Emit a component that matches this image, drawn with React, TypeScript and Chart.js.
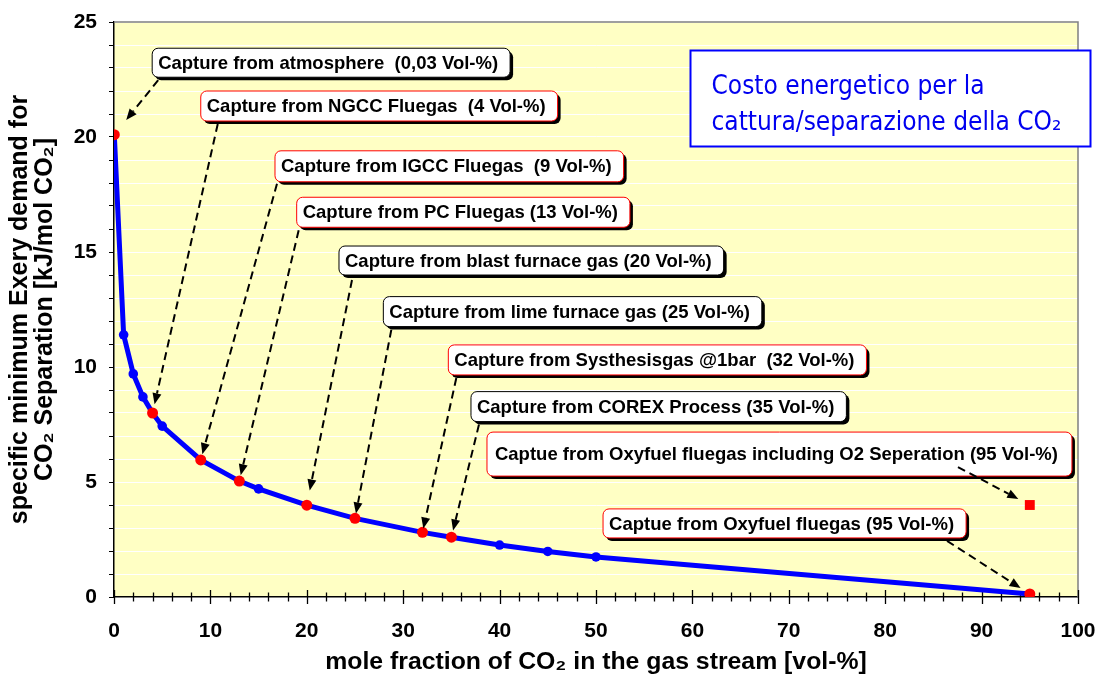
import React, { useEffect, useRef } from 'react';
import { Chart, registerables } from 'chart.js';

Chart.register(...registerables);

// ---- data ----
const co2Fraction = [0.03, 1, 2, 3, 4, 5, 9, 13, 15, 20, 25, 32, 35, 40, 45, 50, 95];
const exergyDemand = [20.1, 11.4, 9.7, 8.7, 8.0, 7.43, 5.96, 5.04, 4.7, 3.99, 3.42, 2.81, 2.6, 2.26, 1.98, 1.74, 0.13];
const highlightedFractions = [0.03, 4, 9, 13, 20, 25, 32, 35, 95];
const oxyO2Fraction = [95];
const oxyO2Demand = [4.0];
const xTickValues = [0, 10, 20, 30, 40, 50, 60, 70, 80, 90, 100];
const yTickValues = [0, 5, 10, 15, 20, 25];

const calloutTexts = [
  'Capture from atmosphere  (0,03 Vol-%)',
  'Capture from NGCC Fluegas  (4 Vol-%)',
  'Capture from IGCC Fluegas  (9 Vol-%)',
  'Capture from PC Fluegas (13 Vol-%)',
  'Capture from blast furnace gas (20 Vol-%)',
  'Capture from lime furnace gas (25 Vol-%)',
  'Capture from Systhesisgas @1bar  (32 Vol-%)',
  'Capture from COREX Process (35 Vol-%)',
  'Captue from Oxyfuel fluegas including O2 Seperation (95 Vol-%)',
  'Captue from Oxyfuel fluegas (95 Vol-%)',
];
// target: [datasetIndex, pointIndex]
const calloutTargets = [
  [0, 0], [0, 4], [0, 6], [0, 7], [0, 9], [0, 10], [0, 11], [0, 12], [1, 0], [0, 16],
];

const infoLines = ['Costo energetico per la', 'cattura/separazione della CO\u2082'];
const xTitle = 'mole fraction of CO\u2082 in the gas stream [vol-%]';
const yTitle = ['specific minimum Exery demand for', 'CO\u2082 Separation [kJ/mol CO\u2082]'];

// ---- layout of callouts (box anchor in axis units, offsets in px) ----
const calloutLayout = [
  { bx: 3.96, by: 23.86, h: 29, px: 6, tx: 6, ty: 32, gap: 19, red: false },
  { bx: 9.0, by: 22.0, h: 30, px: 6, tx: 17, ty: 33, gap: 9, red: true },
  { bx: 16.7, by: 19.4, h: 31, px: 6, tx: 2, ty: 33, gap: 6, red: true },
  { bx: 18.95, by: 17.38, h: 30, px: 6, tx: 2, ty: 33, gap: 6, red: true },
  { bx: 23.34, by: 15.26, h: 29, px: 6, tx: 13, ty: 34, gap: 15, red: false },
  { bx: 27.94, by: 13.06, h: 30, px: 6, tx: 8, ty: 33, gap: 5, red: false },
  { bx: 34.68, by: 10.96, h: 30, px: 6, tx: 8, ty: 33, gap: 4, red: true },
  { bx: 37.03, by: 8.93, h: 30, px: 6, tx: 8, ty: 33, gap: 7, red: false },
  { bx: 38.69, by: 7.17, h: 44, px: 8, tx: 471, ty: 35, gap: 13, red: true },
  { bx: 50.73, by: 3.83, h: 29, px: 6, tx: 344, ty: 32, gap: 11, red: true },
];

const BLUE = '#0000FF';
const RED = '#FF0000';
const PLOT_BG = '#FFFFC4';
const FAMILY = '"Liberation Sans", Arial, sans-serif';
const LABEL_FONT = 'bold 18.5px ' + FAMILY;

function roundRect(ctx: CanvasRenderingContext2D, x: number, y: number, w: number, h: number, r: number) {
  ctx.beginPath();
  ctx.moveTo(x + r, y);
  ctx.arcTo(x + w, y, x + w, y + h, r);
  ctx.arcTo(x + w, y + h, x, y + h, r);
  ctx.arcTo(x, y + h, x, y, r);
  ctx.arcTo(x, y, x + w, y, r);
  ctx.closePath();
}

const decorPlugin = {
  id: 'decor',
  beforeDraw(chart: any) {
    const { ctx, chartArea: a } = chart;
    ctx.save();
    ctx.fillStyle = PLOT_BG;
    ctx.fillRect(a.left, a.top, a.right - a.left, a.bottom - a.top);
    ctx.restore();
  },
  beforeDatasetsDraw(chart: any) {
    const { ctx, chartArea: a, scales } = chart;
    ctx.save();
    ctx.strokeStyle = '#808080';
    ctx.lineWidth = 1.5;
    ctx.beginPath();
    ctx.moveTo(a.left, a.top);
    ctx.lineTo(a.right, a.top);
    ctx.lineTo(a.right, a.bottom);
    ctx.stroke();
    ctx.strokeStyle = '#000';
    ctx.lineWidth = 1.3;
    const xs = scales.x;
    for (let v = 0; v <= 100; v += 2) {
      const px = Math.round(xs.getPixelForValue(v)) + 0.5;
      const major = v % 10 === 0;
      const l = major ? 7 : 4.5;
      ctx.beginPath();
      ctx.moveTo(px, a.bottom - l);
      ctx.lineTo(px, a.bottom + l);
      ctx.stroke();
    }
    ctx.restore();
  },
  afterDatasetsDraw(chart: any) {
    const { ctx, scales } = chart;
    const xs = scales.x;
    const ys = scales.y;
    ctx.save();
    ctx.font = LABEL_FONT;
    const boxes: any[] = [];
    calloutTexts.forEach((text, i) => {
      const L = calloutLayout[i];
      const x = xs.getPixelForValue(L.bx);
      const y = ys.getPixelForValue(L.by);
      const w = ctx.measureText(text).width + L.px * 2 + 6;
      const h = L.h;
      ctx.fillStyle = '#000';
      roundRect(ctx, x + 3, y + 3, w, h, 6);
      ctx.fill();
      ctx.fillStyle = '#fff';
      roundRect(ctx, x, y, w, h, 6);
      ctx.fill();
      ctx.strokeStyle = L.red ? RED : '#000';
      ctx.lineWidth = 1;
      ctx.stroke();
      ctx.fillStyle = '#000';
      ctx.textBaseline = 'middle';
      ctx.textAlign = 'left';
      ctx.fillText(text, x + L.px, y + h / 2 + 1);
      boxes.push({ x, y });
    });
    calloutTexts.forEach((_, i) => {
      const L = calloutLayout[i];
      const [di, pi] = calloutTargets[i];
      const el = chart.getDatasetMeta(di).data[pi];
      const tx = el.x;
      const ty = el.y;
      const sx = boxes[i].x + L.tx;
      const sy = boxes[i].y + L.ty;
      const dx = tx - sx;
      const dy = ty - sy;
      const len = Math.hypot(dx, dy);
      const ux = dx / len;
      const uy = dy / len;
      const tipX = tx - ux * L.gap;
      const tipY = ty - uy * L.gap;
      const head = 11;
      const hw = 4.5;
      ctx.strokeStyle = '#000';
      ctx.lineWidth = 2;
      ctx.setLineDash([8, 5]);
      ctx.beginPath();
      ctx.moveTo(sx, sy);
      ctx.lineTo(tipX - ux * head, tipY - uy * head);
      ctx.stroke();
      ctx.setLineDash([]);
      ctx.fillStyle = '#000';
      ctx.beginPath();
      ctx.moveTo(tipX, tipY);
      ctx.lineTo(tipX - ux * head - uy * hw, tipY - uy * head + ux * hw);
      ctx.lineTo(tipX - ux * head + uy * hw, tipY - uy * head - ux * hw);
      ctx.closePath();
      ctx.fill();
    });
    ctx.restore();
  },
  afterDraw(chart: any) {
    const { ctx, scales } = chart;
    const x = Math.round(scales.x.getPixelForValue(59.75)) + 0.5;
    const y = Math.round(scales.y.getPixelForValue(23.78)) + 0.5;
    const w = 400;
    const h = 96;
    ctx.save();
    ctx.fillStyle = '#fff';
    ctx.fillRect(x, y, w, h);
    ctx.strokeStyle = BLUE;
    ctx.lineWidth = 2;
    ctx.strokeRect(x, y, w, h);
    ctx.fillStyle = '#0000F0';
    ctx.font = '26px "DejaVu Sans Condensed", "DejaVu Sans", sans-serif';
    ctx.textBaseline = 'middle';
    ctx.textAlign = 'left';
    ctx.fillText(infoLines[0], x + 21, y + 37);
    ctx.fillText(infoLines[1], x + 21, y + 73);
    ctx.restore();
  },
};

export default function App() {
  const ref = useRef<HTMLCanvasElement | null>(null);
  useEffect(() => {
    if (!ref.current) return;
    const pointColors = co2Fraction.map((v) => (highlightedFractions.includes(v) ? RED : BLUE));
    const pointRadii = co2Fraction.map((v) => (highlightedFractions.includes(v) ? 5.5 : 4.8));
    const chart = new Chart(ref.current, {
      type: 'line',
      data: {
        datasets: [
          {
            data: co2Fraction.map((v, i) => ({ x: v, y: exergyDemand[i] })),
            borderColor: BLUE,
            borderWidth: 5,
            pointBackgroundColor: pointColors,
            pointBorderWidth: 0,
            pointRadius: pointRadii,
            tension: 0,
          },
          {
            data: oxyO2Fraction.map((v, i) => ({ x: v, y: oxyO2Demand[i] })),
            showLine: false,
            pointStyle: 'rect',
            pointRadius: 7,
            pointBackgroundColor: RED,
            pointBorderWidth: 0,
          },
        ],
      },
      options: {
        responsive: false,
        animation: false,
        layout: { padding: { top: 22, right: 19, left: 0, bottom: 0 } },
        plugins: { legend: { display: false }, tooltip: { enabled: false } },
        scales: {
          x: {
            type: 'linear',
            min: 0,
            max: 100,
            afterBuildTicks: (s: any) => {
              s.ticks = xTickValues.map((v) => ({ value: v }));
            },
            afterFit: (s: any) => {
              s.height = 82;
              s.paddingLeft = 0;
              s.paddingRight = 0;
            },
            grid: { display: false, drawTicks: false },
            border: { display: true, color: '#000', width: 1.5 },
            ticks: {
              color: '#000',
              font: { family: FAMILY, weight: 'bold', size: 21 },
              padding: 22,
              maxRotation: 0,
              autoSkip: false,
            },
            title: {
              display: true,
              text: xTitle,
              color: '#000',
              font: { family: FAMILY, weight: 'bold', size: 24.8 },
              padding: { top: 0, bottom: 2 },
            },
          },
          y: {
            type: 'linear',
            min: 0,
            max: 25,
            afterBuildTicks: (s: any) => {
              const t = [];
              for (let v = 0; v <= 25; v++) t.push({ value: v });
              s.ticks = t;
            },
            afterFit: (s: any) => {
              s.width = 114;
              s.paddingTop = 0;
              s.paddingBottom = 0;
            },
            grid: {
              color: '#FFFFFF',
              lineWidth: 1,
              drawTicks: true,
              tickLength: 5,
              tickColor: '#000',
            },
            border: { display: true, color: '#000', width: 1.5 },
            ticks: {
              color: '#000',
              font: { family: FAMILY, weight: 'bold', size: 21 },
              padding: 12,
              autoSkip: false,
              callback: (v: any) => (yTickValues.includes(Number(v)) ? String(v) : ''),
            },
            title: {
              display: true,
              text: yTitle,
              color: '#000',
              font: { family: FAMILY, weight: 'bold', size: 25, lineHeight: 1.0 },
              padding: { top: 7.5, bottom: 0 },
            },
          },
        },
      } as any,
      plugins: [decorPlugin],
    });
    return () => chart.destroy();
  }, []);
  return (
    <div style={{ position: 'absolute', left: 0, top: 0, width: 1097, height: 679, background: '#fff' }}>
      <canvas ref={ref} width={1097} height={679} />
    </div>
  );
}
